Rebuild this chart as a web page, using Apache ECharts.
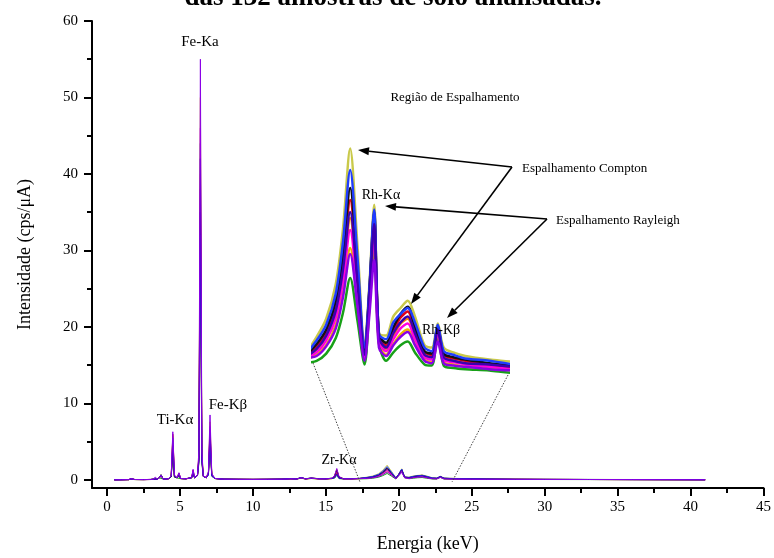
<!DOCTYPE html>
<html><head><meta charset="utf-8">
<script src="https://cdn.jsdelivr.net/npm/echarts@6/dist/echarts.min.js"></script>
<style>html,body{margin:0;padding:0;background:#fff}#c{width:774px;height:558px}</style>
</head><body><div id="c"></div>
<script>
// ---------- DATA ----------
const energy=[0.5,1.0,1.5,1.65,1.75,1.9,2.5,3.0,3.2,3.3,3.45,3.6,3.7,3.85,4.2,4.4,
4.51,4.62,4.8,4.93,5.05,5.4,5.8,5.9,6.0,6.2,6.3,6.4,6.5,6.6,6.8,6.95,7.06,7.18,7.4,
8.0,9.0,10.0,11.0,12.0,12.6,13.0,13.3,13.6,14.0,14.5,15.0,15.4,
15.6,15.75,15.9,16.2,16.8,17.3,
17.8,18.2,18.6,18.9,19.2,19.5,19.8,20.0,20.2,20.4,20.7,21.0,21.3,21.6,21.9,22.3,22.6,22.85,23.1,23.5,24.0,25.0,26.0,
28.0,30.0,33.0,36.0,39.0,41.0];

const xTickLabels=[0,5,10,15,20,25,30,35,40,45];
const xMinorTicks=[2.5,7.5,12.5,17.5,22.5,27.5,32.5,37.5,42.5];
const yTickLabels=[0,10,20,30,40,50,60];
const yMinorTicks=[5,15,25,35,45,55];

const s0=[0.02,0.03,0.05,0.16,0.32,0.06,0.05,0.06,0.10,0.38,0.12,0.30,0.62,0.12,0.15,0.55,
6.3,0.63,0.30,0.95,0.20,0.15,0.30,1.4,0.30,0.60,3.9,55,3.9,0.50,0.30,1.1,8.5,0.85,0.20,
0.10,0.08,0.07,0.08,0.10,0.15,0.12,0.28,0.14,0.22,0.15,0.14,0.20,
0.60,1.5,0.45,0.15,0.15,0.18,
0.20,0.28,0.43,0.69,1.05,0.62,0.16,0.54,1.00,0.27,0.20,0.29,0.36,0.40,0.29,0.16,0.14,0.32,0.14,0.12,0.11,0.09,0.08,
0.08,0.07,0.06,0.05,0.04,0.03];
const s1=[0.02,0.03,0.04,0.14,0.28,0.05,0.05,0.06,0.09,0.33,0.11,0.28,0.55,0.11,0.14,0.50,
5.8,0.58,0.28,0.87,0.19,0.14,0.28,1.0,0.28,0.58,3.5,50,3.5,0.48,0.28,1.0,7.6,0.76,0.19,
0.09,0.08,0.07,0.07,0.09,0.14,0.11,0.26,0.13,0.20,0.14,0.13,0.18,
0.36,0.9,0.27,0.14,0.14,0.17,
0.21,0.29,0.46,0.72,1.10,0.65,0.17,0.59,1.10,0.30,0.21,0.30,0.38,0.42,0.30,0.17,0.15,0.36,0.15,0.13,0.11,0.10,0.08,
0.08,0.07,0.06,0.05,0.04,0.03];
const s2=[0.02,0.03,0.05,0.15,0.30,0.06,0.05,0.06,0.10,0.36,0.12,0.31,0.64,0.12,0.15,0.48,
5.0,0.50,0.29,0.75,0.19,0.15,0.31,1.2,0.30,0.62,3.2,46,3.2,0.52,0.31,0.9,7.0,0.70,0.20,
0.10,0.08,0.07,0.08,0.10,0.15,0.12,0.29,0.14,0.23,0.15,0.14,0.20,
0.48,1.2,0.36,0.15,0.15,0.18,
0.23,0.33,0.52,0.82,1.25,0.73,0.19,0.65,1.20,0.32,0.24,0.34,0.43,0.47,0.34,0.19,0.17,0.39,0.17,0.15,0.13,0.11,0.09,
0.08,0.07,0.06,0.05,0.04,0.03];
const s3=[0.02,0.03,0.05,0.14,0.27,0.06,0.05,0.06,0.10,0.32,0.12,0.28,0.56,0.12,0.15,0.45,
4.5,0.45,0.28,0.68,0.18,0.15,0.28,0.8,0.28,0.58,2.9,42,2.9,0.48,0.29,0.8,6.3,0.63,0.19,
0.10,0.08,0.07,0.08,0.10,0.16,0.12,0.30,0.15,0.23,0.16,0.15,0.21,
0.32,0.8,0.24,0.16,0.16,0.19,
0.26,0.37,0.58,0.92,1.40,0.82,0.21,0.70,1.30,0.35,0.27,0.39,0.48,0.53,0.39,0.21,0.19,0.42,0.19,0.16,0.14,0.13,0.11,
0.08,0.07,0.06,0.05,0.04,0.03];
const s4=[0.02,0.03,0.05,0.16,0.31,0.06,0.05,0.07,0.11,0.37,0.13,0.32,0.66,0.13,0.16,0.52,
6.0,0.60,0.30,0.90,0.20,0.16,0.31,1.3,0.31,0.60,2.7,38,2.7,0.50,0.30,0.75,5.8,0.58,0.20,
0.11,0.09,0.08,0.09,0.11,0.16,0.13,0.30,0.15,0.24,0.16,0.15,0.21,
0.40,1.0,0.30,0.16,0.16,0.19,
0.28,0.39,0.62,0.98,1.50,0.88,0.23,0.73,1.35,0.36,0.29,0.41,0.52,0.57,0.41,0.23,0.21,0.44,0.21,0.18,0.16,0.13,0.11,
0.09,0.07,0.06,0.05,0.04,0.03];
const s5=[0.02,0.03,0.05,0.15,0.29,0.06,0.05,0.07,0.11,0.34,0.13,0.33,0.70,0.13,0.16,0.42,
3.8,0.40,0.27,0.57,0.18,0.16,0.29,0.9,0.29,0.57,2.5,35,2.5,0.48,0.29,0.7,5.3,0.53,0.19,
0.11,0.09,0.08,0.09,0.11,0.17,0.13,0.31,0.15,0.24,0.17,0.15,0.22,
0.52,1.3,0.39,0.17,0.17,0.20,
0.30,0.42,0.66,1.05,1.60,0.94,0.24,0.75,1.40,0.38,0.31,0.44,0.55,0.61,0.44,0.24,0.22,0.45,0.22,0.19,0.17,0.14,0.12,
0.09,0.08,0.06,0.05,0.04,0.03];
const s6=[0.02,0.03,0.05,0.15,0.30,0.06,0.05,0.07,0.11,0.36,0.13,0.31,0.63,0.13,0.16,0.50,
5.5,0.55,0.29,0.82,0.19,0.16,0.30,1.1,0.30,0.58,2.3,32,2.3,0.47,0.29,0.65,4.8,0.48,0.19,
0.11,0.09,0.08,0.09,0.11,0.17,0.13,0.32,0.16,0.25,0.17,0.16,0.22,
0.28,0.7,0.21,0.17,0.17,0.21,
0.33,0.46,0.72,1.15,1.75,1.03,0.27,0.76,1.42,0.38,0.34,0.48,0.55,0.60,0.48,0.27,0.24,0.46,0.24,0.21,0.18,0.16,0.13,
0.09,0.08,0.07,0.05,0.04,0.03];
const s7=[0.02,0.03,0.05,0.14,0.28,0.06,0.05,0.07,0.11,0.33,0.13,0.30,0.60,0.13,0.16,0.44,
4.2,0.42,0.28,0.63,0.18,0.16,0.28,0.7,0.28,0.55,2.1,30,2.1,0.45,0.28,0.6,4.5,0.45,0.18,
0.11,0.09,0.08,0.09,0.12,0.18,0.14,0.33,0.16,0.26,0.18,0.16,0.23,
0.44,1.1,0.33,0.18,0.18,0.22,
0.36,0.51,0.80,1.26,1.93,1.13,0.29,0.79,1.46,0.39,0.37,0.53,0.60,0.66,0.53,0.29,0.27,0.47,0.27,0.23,0.20,0.17,0.15,
0.09,0.08,0.07,0.06,0.04,0.03];
const s8=[0.02,0.03,0.04,0.13,0.26,0.05,0.05,0.06,0.09,0.31,0.11,0.27,0.52,0.11,0.14,0.40,
3.5,0.36,0.27,0.53,0.17,0.14,0.28,1.0,0.28,0.58,3.1,44,3.1,0.49,0.28,0.85,6.6,0.66,0.18,
0.09,0.07,0.06,0.07,0.09,0.13,0.10,0.24,0.12,0.19,0.13,0.12,0.17,
0.24,0.6,0.18,0.12,0.12,0.14,
0.16,0.22,0.35,0.56,0.85,0.50,0.13,0.62,1.15,0.31,0.16,0.23,0.29,0.32,0.23,0.13,0.12,0.37,0.12,0.10,0.09,0.08,0.06,
0.07,0.06,0.05,0.04,0.03,0.03];
const s9=[0.02,0.03,0.05,0.15,0.31,0.06,0.05,0.06,0.10,0.36,0.12,0.30,0.61,0.12,0.15,0.48,
5.2,0.52,0.29,0.78,0.19,0.15,0.30,1.2,0.30,0.60,2.8,40,2.8,0.49,0.30,0.78,6.0,0.60,0.19,
0.10,0.08,0.07,0.08,0.10,0.15,0.12,0.29,0.14,0.22,0.15,0.14,0.20,
0.56,1.4,0.42,0.15,0.15,0.18,
0.25,0.35,0.56,0.88,1.35,0.79,0.20,0.67,1.25,0.34,0.26,0.37,0.47,0.51,0.37,0.20,0.19,0.40,0.19,0.16,0.14,0.12,0.10,
0.08,0.07,0.06,0.05,0.04,0.03];

const samples=[s7,s1,s8,s9,s4,s2,s5,s6,s3,s0];
// ---------- STYLE ----------
const colors=['#c9c94a','#f0b400','#18a018','#ff7f00','#e0001a','#ff00e0','#111111','#1f3cff','#3a00b0','#8a00e6'];
const FF='"Liberation Serif","Times New Roman",serif';

const series=[];
samples.forEach((s,i)=>{
  const d=energy.map((e,k)=>[e,s[k]]);
  series.push({type:'line',xAxisIndex:0,yAxisIndex:0,data:d,showSymbol:false,
    lineStyle:{width:1,color:colors[i]},itemStyle:{color:colors[i]},z:2});
  series.push({type:'line',xAxisIndex:1,yAxisIndex:1,data:d,showSymbol:false,smooth:0.3,clip:true,
    lineStyle:{width:2.5,color:colors[i]},itemStyle:{color:colors[i]},z:3});
});

function txt(t,x,y,size,align){
  return {type:'text',z:100,style:{text:t,x:x,y:y,fill:'#000',font:size+'px '+FF,
    align:align||'center',verticalAlign:'middle'}};
}
function arrow(x1,y1,x2,y2){
  const dx=x2-x1,dy=y2-y1,L=Math.sqrt(dx*dx+dy*dy),ux=dx/L,uy=dy/L;
  const hl=11,hw=4;
  const bx=x2-ux*hl,by=y2-uy*hl;
  return [
    {type:'line',z:100,shape:{x1:x1,y1:y1,x2:bx,y2:by},style:{stroke:'#000',lineWidth:1.6}},
    {type:'polygon',z:100,shape:{points:[[x2,y2],[bx-uy*hw,by+ux*hw],[bx+uy*hw,by-ux*hw]]},style:{fill:'#000'}}
  ];
}
const graphics=[
  {type:'text',z:100,style:{text:'das 132 amostras de solo analisadas.',x:393,y:-2,fill:'#000',
    font:'bold 27px '+FF,align:'center',verticalAlign:'middle'}},
  txt('Fe-Ka',200,42,15),
  txt('Região de Espalhamento',455,98,13),
  txt('Espalhamento Compton',522,169,13,'left'),
  txt('Espalhamento Rayleigh',556,221,13,'left'),
  txt('Rh-Kα',381,195,14),
  txt('Rh-Kβ',441,330,14),
  txt('Ti-Kα',175,420,15),
  txt('Fe-Kβ',228,405,15),
  txt('Zr-Kα',339,460,14),
  {type:'line',z:100,shape:{x1:313,y1:363,x2:360,y2:482},style:{stroke:'#444',lineWidth:1,lineDash:[1.5,1.5]}},
  {type:'line',z:100,shape:{x1:508,y1:375,x2:452,y2:482},style:{stroke:'#444',lineWidth:1,lineDash:[1.5,1.5]}},
  ...arrow(512,167,358,150),
  ...arrow(512,167,411,304),
  ...arrow(547,219,385,206),
  ...arrow(547,219,447,318)
];

const axisLineStyle={color:'#000',width:2};
const option={
  animation:false,
  backgroundColor:'#fff',
  grid:[
    {left:92,right:9,top:21,bottom:66},
    {left:313,top:140,width:195,height:240}
  ],
  xAxis:[
    {gridIndex:0,type:'value',min:-1.03,max:45,
     axisLine:{show:true,onZero:false,lineStyle:axisLineStyle},
     axisTick:{show:true,customValues:xTickLabels,length:8,lineStyle:axisLineStyle},
     axisLabel:{customValues:xTickLabels,fontFamily:FF,fontSize:15,color:'#000',margin:12},
     splitLine:{show:false},
     name:'Energia (keV)',nameLocation:'middle',nameGap:47,
     nameTextStyle:{fontFamily:FF,fontSize:18,color:'#000'}},
    {gridIndex:1,type:'value',min:17.65,max:25.78,show:false},
    {gridIndex:0,type:'value',min:-1.03,max:45,position:'bottom',
     axisLine:{show:false,onZero:false},
     axisTick:{show:true,customValues:xMinorTicks,length:5,lineStyle:axisLineStyle},
     axisLabel:{show:false},splitLine:{show:false}}
  ],
  yAxis:[
    {gridIndex:0,type:'value',min:-1.05,max:60,
     axisLine:{show:true,onZero:false,lineStyle:axisLineStyle},
     axisTick:{show:true,customValues:yTickLabels,length:8,lineStyle:axisLineStyle},
     axisLabel:{customValues:yTickLabels,fontFamily:FF,fontSize:15,color:'#000',margin:14},
     splitLine:{show:false},
     name:'Intensidade (cps/μA)',nameLocation:'middle',nameGap:58,
     nameTextStyle:{fontFamily:FF,fontSize:18,color:'#000'}},
    {gridIndex:1,type:'value',min:0,max:2,show:false},
    {gridIndex:0,type:'value',min:-1.05,max:60,position:'left',
     axisLine:{show:false,onZero:false},
     axisTick:{show:true,customValues:yMinorTicks,length:5,lineStyle:axisLineStyle},
     axisLabel:{show:false},splitLine:{show:false}}
  ],
  series:series,
  graphic:graphics
};
const chart=echarts.init(document.getElementById('c'),null,{renderer:'canvas'});
chart.setOption(option);
</script></body></html>
